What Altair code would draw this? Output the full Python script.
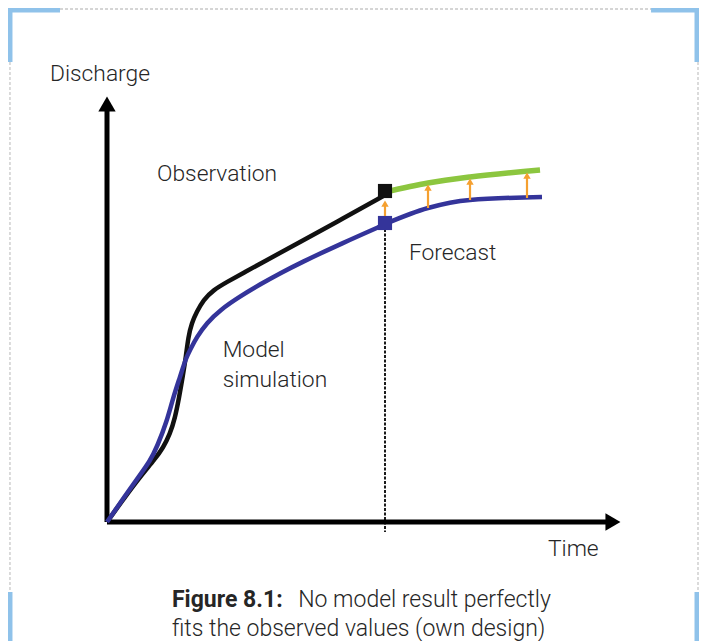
import altair as alt
import pandas as pd

# ---------------- data (time / discharge in arbitrary units) ----------------
obs_t = [0, 0.647, 1.187, 1.727, 2.014, 2.266, 2.446, 2.590, 2.734, 2.842, 2.924, 3.047, 3.227, 3.464,
         3.824, 4.317, 4.964, 5.612, 6.942, 8.489, 10.0]
obs_q = [0, 6.25, 11.25, 15.75, 18.5, 22.0, 26.0, 31.0, 36.75, 41.5, 46.25, 49.75, 52.5, 55.5,
         58.0, 60.0, 62.5, 64.95, 70.0, 75.875, 81.75]

sim_t = [0, 0.647, 1.187, 1.547, 1.799, 2.158, 2.374, 2.626, 2.842, 2.986, 3.227, 3.586, 4.065,
         4.784, 5.504, 6.223, 6.942, 8.489, 10.0]
sim_q = [0, 6.5, 11.75, 15.25, 18.75, 25.25, 31.0, 36.25, 41.0, 43.0, 46.25, 49.75, 53.0,
         56.4, 59.4, 62.15, 64.75, 69.8, 74.425]

fc_model_t = [10.0, 11.547, 13.058, 15.647]
fc_model_q = [74.5, 78.5, 80.5, 81.25]

fc_upd_t = [10.0, 11.547, 13.058, 15.576]
fc_upd_q = [82.5, 84.75, 86.25, 88.0]

arrow_t = [10.0, 11.547, 13.058, 15.108]
arrow_from = [76.5, 78.5, 80.5, 81.0]
arrow_to = [80.5, 84.5, 86.0, 87.5]

now_t = [10.0]
now_obs_q = [82.75]
now_sim_q = [74.75]

axis_top_q = 104.5
axis_right_t = 18.2

labels = ["Discharge", "Observation", "Model", "simulation", "Forecast", "Time"]
label_t = [-2.05, 1.80, 4.16, 4.16, 10.86, 15.86]
label_q = [110.25, 85.25, 41.25, 33.75, 65.5, -8.5]

caption_bold = "Figure 8.1:"
caption_rest = "No model result perfectly"
caption_line2 = "fits the observed values (own design)"
caption_t = [2.338, 6.88, 2.338]
caption_q = [-21.25, -21.25, -28.4]

# frame decoration (same coordinate system)
frame_left_t, frame_right_t = -3.49, 21.259
bar_right_t = 21.223
frame_top_q = 128.25
bracket_top_q, bracket_top_end_q = 128.0, 115.0
bracket_bot_q, bracket_bot_end_q = -17.5, -29.75
bracket_h_left = [-3.56, -1.69]
bracket_h_right = [19.57, 21.295]

X_DOMAIN = [-3.561, 21.295]
Y_DOMAIN = [-29.75, 128.5]

FONT = "Roboto, Lato, sans-serif"
TXT = "#262626"
LABEL_SIZE = 22.8
CAPTION_SIZE = 23.0

xs = alt.Scale(domain=X_DOMAIN, nice=False, zero=False)
ys = alt.Scale(domain=Y_DOMAIN, nice=False, zero=False)


def X(f):
    return alt.X(f, type="quantitative", scale=xs, axis=None)


def Y(f):
    return alt.Y(f, type="quantitative", scale=ys, axis=None)


# --- frame ---
dash_df = pd.DataFrame({
    "t0": [frame_left_t, frame_right_t, bracket_h_left[1]],
    "t1": [frame_left_t, frame_right_t, bracket_h_right[0]],
    "q0": [bracket_top_end_q, bracket_top_end_q, frame_top_q],
    "q1": [bracket_bot_q, bracket_bot_q, frame_top_q],
})
dash_frame = alt.Chart(dash_df).mark_rule(color="#c8c8c8", strokeWidth=1.3, strokeDash=[3, 2]).encode(
    x=X("t0"), x2="t1", y=Y("q0"), y2="q1")

br_df = pd.DataFrame({
    "t0": [bracket_h_left[0], bracket_h_right[0], frame_left_t, bar_right_t, frame_left_t, bar_right_t],
    "t1": [bracket_h_left[1], bracket_h_right[1], frame_left_t, bar_right_t, frame_left_t, bar_right_t],
    "q0": [bracket_top_q, bracket_top_q, 128.6, 128.6, bracket_bot_q, bracket_bot_q],
    "q1": [bracket_top_q, bracket_top_q, bracket_top_end_q, bracket_top_end_q, bracket_bot_end_q, bracket_bot_end_q],
})
brackets = alt.Chart(br_df).mark_rule(color="#8fc2ea", strokeWidth=5).encode(
    x=X("t0"), x2="t1", y=Y("q0"), y2="q1")

# --- forecast time dashed line ---
now_df = pd.DataFrame({"t": now_t, "q0": [now_sim_q[0] - 1.5], "q1": [-2.5]})
now_line = alt.Chart(now_df).mark_rule(color="#1a1a1a", strokeWidth=2, strokeDash=[3, 1.5]).encode(
    x=X("t"), y=Y("q0"), y2="q1")

# --- axes with arrows ---
ax_df = pd.DataFrame({"t0": [0, 0], "t1": [0, axis_right_t], "q0": [0, 0], "q1": [axis_top_q, 0]})
axes = alt.Chart(ax_df).mark_rule(color="#000000", strokeWidth=5).encode(
    x=X("t0"), x2="t1", y=Y("q0"), y2="q1")
up_df = pd.DataFrame({"t": [0], "q": [axis_top_q]})
up_head = alt.Chart(up_df).mark_point(shape="triangle-up", size=300, filled=True, opacity=1,
                                      color="#000000").encode(x=X("t"), y=Y("q"))
rt_df = pd.DataFrame({"t": [axis_right_t], "q": [0]})
rt_head = alt.Chart(rt_df).mark_point(shape="triangle-right", size=300, filled=True, opacity=1,
                                      color="#000000").encode(x=X("t"), y=Y("q"))

# --- curves ---
obs_df = pd.DataFrame({"t": obs_t, "q": obs_q})
sim_df = pd.DataFrame({"t": sim_t, "q": sim_q})
fcm_df = pd.DataFrame({"t": fc_model_t, "q": fc_model_q})
fcu_df = pd.DataFrame({"t": fc_upd_t, "q": fc_upd_q})

obs_line = alt.Chart(obs_df).mark_line(color="#111111", strokeWidth=4.5, interpolate="basis").encode(
    x=X("t"), y=Y("q"), order="t:Q")
sim_line = alt.Chart(sim_df).mark_line(color="#34349a", strokeWidth=4.5, interpolate="basis").encode(
    x=X("t"), y=Y("q"), order="t:Q")
fcm_line = alt.Chart(fcm_df).mark_line(color="#34349a", strokeWidth=4.5, interpolate="monotone").encode(
    x=X("t"), y=Y("q"), order="t:Q")
fcu_line = alt.Chart(fcu_df).mark_line(color="#8cc63f", strokeWidth=5.5, interpolate="monotone").encode(
    x=X("t"), y=Y("q"), order="t:Q")

sq_df = pd.DataFrame({"t": now_t * 2, "q": now_obs_q + now_sim_q, "c": ["obs", "sim"]})
squares = alt.Chart(sq_df).mark_square(size=200, opacity=1).encode(
    x=X("t"), y=Y("q"),
    color=alt.Color("c:N", scale=alt.Scale(domain=["obs", "sim"], range=["#111111", "#34349a"]), legend=None))

# --- correction arrows ---
ar_df = pd.DataFrame({"t": arrow_t, "q0": arrow_from, "q1": arrow_to})
ar_df["qh"] = ar_df["q1"] - 0.9
ar_shaft = alt.Chart(ar_df).mark_rule(color="#f5a030", strokeWidth=2.2).encode(
    x=X("t"), y=Y("q0"), y2="qh")
ar_head = alt.Chart(ar_df).mark_point(shape="triangle-up", size=55, filled=True, opacity=1,
                                      color="#f5a030").encode(x=X("t"), y=Y("qh"))

# --- labels ---
lab_df = pd.DataFrame({"txt": labels, "t": label_t, "q": label_q})
lab = alt.Chart(lab_df).mark_text(align="left", baseline="alphabetic", font=FONT, fontSize=LABEL_SIZE,
                                  fontWeight=300, color=TXT).encode(x=X("t"), y=Y("q"), text="txt:N")

cap_df = pd.DataFrame({"txt": [caption_bold, caption_rest, caption_line2], "t": caption_t, "q": caption_q})
cap_b = alt.Chart(cap_df.iloc[[0]]).mark_text(align="left", baseline="alphabetic", font=FONT,
                                              fontSize=CAPTION_SIZE, fontWeight="bold", color=TXT).encode(
    x=X("t"), y=Y("q"), text="txt:N")
cap_r = alt.Chart(cap_df.iloc[[1, 2]]).mark_text(align="left", baseline="alphabetic", font=FONT,
                                                 fontSize=CAPTION_SIZE, fontWeight=300, color=TXT).encode(
    x=X("t"), y=Y("q"), text="txt:N")

chart = alt.layer(
    dash_frame, brackets, now_line, axes, up_head, rt_head,
    obs_line, sim_line, fcu_line, fcm_line, squares, ar_shaft, ar_head,
    lab, cap_b, cap_r,
).properties(width=691, height=633, padding=0, autosize="none", background="#ffffff").configure_view(strokeWidth=0)

chart.save("out.html", embed_options={"renderer": "svg", "actions": False})
